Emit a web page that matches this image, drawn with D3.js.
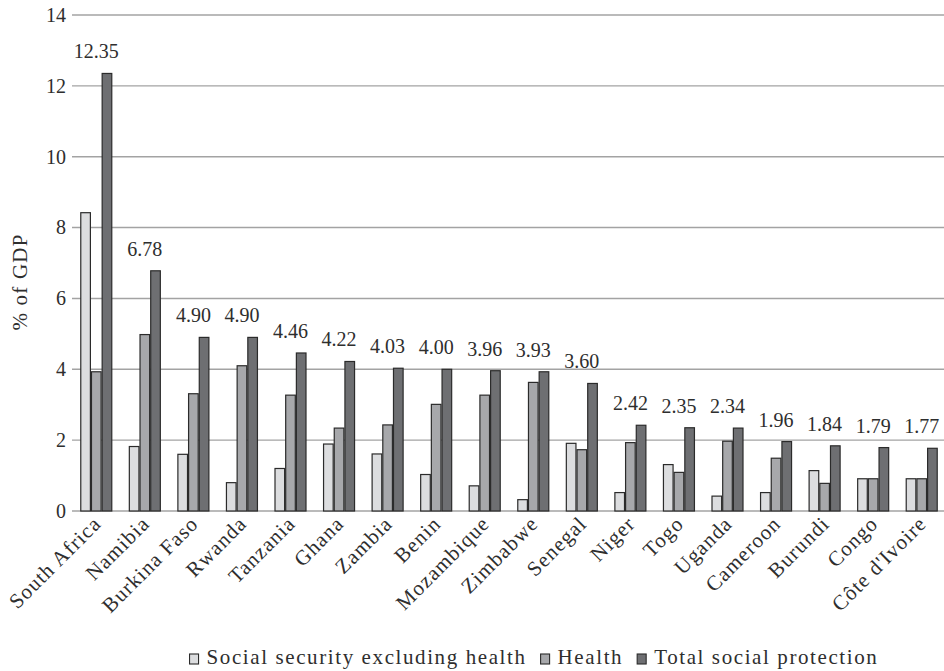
<!DOCTYPE html>
<html>
<head>
<meta charset="utf-8">
<script src="https://cdn.jsdelivr.net/npm/d3@7"></script>
<style>
  html, body { margin: 0; padding: 0; background: #fff; }
  svg { display: block; }
  text { font-family: "Liberation Serif", "DejaVu Serif", serif; fill: #2e2e2e; }
</style>
</head>
<body>
<svg id="chart" width="944" height="671"></svg>
<script>
// Public spending by country, % of GDP
const countries = ["South Africa", "Namibia", "Burkina Faso", "Rwanda", "Tanzania", "Ghana",
  "Zambia", "Benin", "Mozambique", "Zimbabwe", "Senegal", "Niger", "Togo", "Uganda",
  "Cameroon", "Burundi", "Congo", "Côte d'Ivoire"];
const seriesNames = ["Social security excluding health", "Health", "Total social protection"];
const socialSecurity = [8.42, 1.82, 1.60, 0.80, 1.20, 1.89, 1.61, 1.03, 0.71, 0.32, 1.91, 0.52, 1.31, 0.42, 0.52, 1.14, 0.91, 0.91];
const health = [3.93, 4.98, 3.31, 4.10, 3.27, 2.34, 2.43, 3.01, 3.27, 3.63, 1.73, 1.93, 1.09, 1.97, 1.49, 0.78, 0.91, 0.91];
const totalProtection = [12.35, 6.78, 4.90, 4.90, 4.46, 4.22, 4.03, 4.00, 3.96, 3.93, 3.60, 2.42, 2.35, 2.34, 1.96, 1.84, 1.79, 1.77];
const yTicks = [0, 2, 4, 6, 8, 10, 12, 14];
const colors = ["#dcdddf", "#a7a8ab", "#6e6f72"];

const series = [socialSecurity, health, totalProtection];
const svg = d3.select("#chart");

const x0 = d3.scaleBand().domain(countries).range([72, 946]).paddingInner(0).paddingOuter(0);
const x1 = d3.scaleBand().domain(d3.range(series.length)).range([0, 31]).paddingInner(0.1).paddingOuter(0);
const y = d3.scaleLinear().domain([0, 14]).range([511, 15]);

// horizontal gridlines
svg.append("g")
  .selectAll("line")
  .data(yTicks)
  .join("line")
  .attr("x1", 72).attr("x2", 944)
  .attr("y1", d => y(d)).attr("y2", d => y(d))
  .attr("stroke", "#a3a3a3").attr("stroke-width", 1.4);

// y axis tick labels
const yAxis = svg.append("g")
  .attr("transform", "translate(66,0)")
  .call(d3.axisLeft(y).tickValues(yTicks).tickSize(0).tickPadding(0).tickFormat(d3.format("d")));
yAxis.select(".domain").remove();
yAxis.selectAll("text")
  .attr("font-size", 20)
  .attr("font-family", "Liberation Serif, serif")
  .attr("fill", "#2e2e2e");

// y axis title
svg.append("text")
  .attr("transform", "translate(27,282) rotate(-90)")
  .attr("text-anchor", "middle")
  .attr("font-size", 21)
  .attr("letter-spacing", 1.2)
  .text("% of GDP");

// grouped bars
const groups = svg.append("g")
  .selectAll("g")
  .data(countries)
  .join("g")
  .attr("transform", d => `translate(${x0(d) + (x0.bandwidth() - 31) / 2},0)`);

groups.selectAll("rect")
  .data((d, i) => series.map((s, k) => ({ k, v: s[i] })))
  .join("rect")
  .attr("x", d => x1(d.k))
  .attr("width", x1.bandwidth())
  .attr("y", d => y(d.v))
  .attr("height", d => y(0) - y(d.v))
  .attr("fill", d => colors[d.k])
  .attr("stroke", "#2b2b2b")
  .attr("stroke-width", 1.2);

// value labels for the total
svg.append("g")
  .selectAll("text")
  .data(countries)
  .join("text")
  .attr("x", d => x0(d) + x0.bandwidth() / 2)
  .attr("y", (d, i) => y(totalProtection[i]) - 15)
  .attr("text-anchor", "middle")
  .attr("font-size", 20)
  .text((d, i) => totalProtection[i].toFixed(2));

// country labels
svg.append("g")
  .selectAll("text")
  .data(countries)
  .join("text")
  .attr("transform", d => `translate(${x0(d) + x0.bandwidth() / 2 + 6},525) rotate(-45)`)
  .attr("text-anchor", "end")
  .attr("font-size", 21)
  .attr("letter-spacing", 1.1)
  .text(d => d);

// legend
const legend = svg.append("g");
const items = legend.selectAll("g")
  .data(seriesNames)
  .join("g");
items.append("rect")
  .attr("width", 9).attr("height", 10)
  .attr("y", -10)
  .attr("fill", (d, i) => colors[i])
  .attr("stroke", "#2b2b2b").attr("stroke-width", 1.1);
items.append("text")
  .attr("x", 17)
  .attr("font-size", 21)
  .attr("letter-spacing", 1.6)
  .text(d => d);
let cx = 0;
items.each(function () {
  const g = d3.select(this);
  g.attr("transform", `translate(${cx},0)`);
  cx += 17 + g.select("text").node().getComputedTextLength() + 14;
});
const totalW = cx - 14;
legend.attr("transform", `translate(${534 - totalW / 2},664)`);
</script>
</body>
</html>
